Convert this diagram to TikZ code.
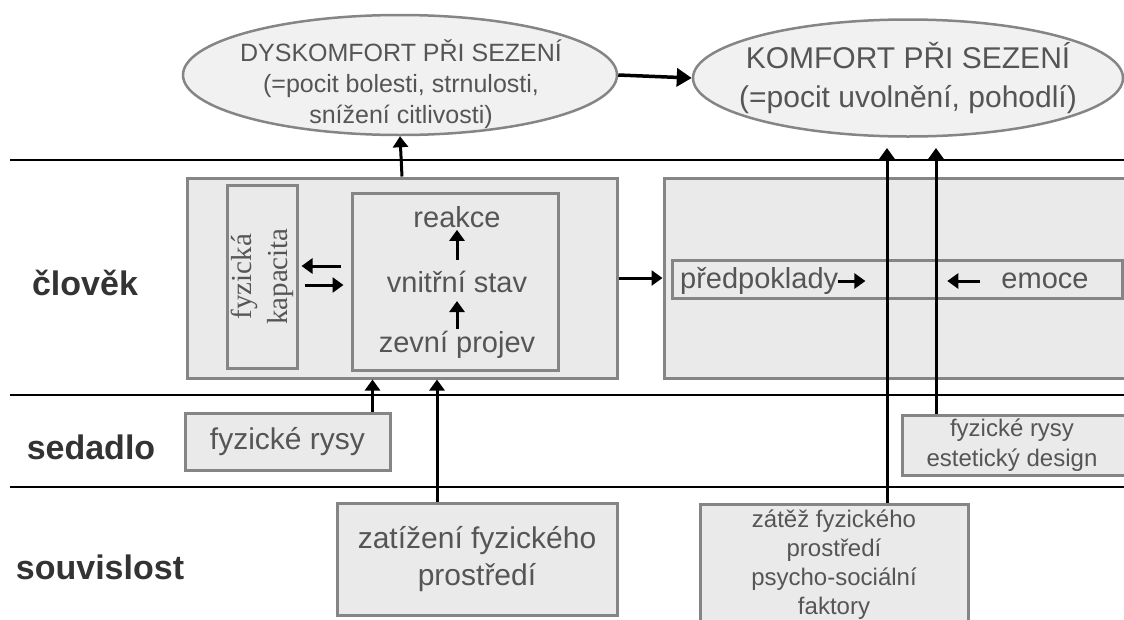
\documentclass[tikz,border=0pt]{standalone}
\usepackage{fontspec}
\setmainfont{Liberation Sans}
\newfontfamily\capfont{Liberation Serif}
\usetikzlibrary{arrows.meta,shapes.geometric,positioning}
\definecolor{rimgray}{HTML}{858585}
\definecolor{fillgray}{HTML}{EAEAEA}
\definecolor{ovalfill}{HTML}{F1F1F1}
\definecolor{txtgray}{HTML}{555555}
\definecolor{lblgray}{HTML}{333333}
\newcommand{\sz}[2]{\fontsize{#1}{#2}\selectfont}

\tikzset{
  panel/.style={draw=rimgray, line width=3pt, fill=fillgray, inner sep=0pt},
  oval/.style={ellipse, draw=rimgray, line width=2.5pt, fill=ovalfill, inner sep=0pt},
  txt/.style={text=txtgray, inner sep=2pt, align=center},
  rowlbl/.style={text=lblgray, font=\bfseries\sz{34}{40}},
  arr/.style={line width=3.5pt, -{Triangle[length=15pt,width=18pt]}},
  sarr/.style={line width=3pt, -{Triangle[length=11pt,width=15pt]}},
  sep/.style={line width=1.5pt},
}

\begin{document}
\begin{tikzpicture}[x=1pt,y=-1pt]
    \useasboundingbox (0,0) rectangle (1124,619);
    % row separators
    \draw[sep] (10,160) -- (1124,160);
    \draw[sep] (10,395) -- (1124,395);
    \draw[sep] (10,487) -- (1124,487);

    % row labels
    \node[rowlbl] (lclovek) at (85,283) {člověk};
    \node[rowlbl] (lsedadlo) at (91,447) {sedadlo};
    \node[rowlbl] (lsouvis) at (100,567) {souvislost};

    % outcome ovals
    \node[oval, minimum width=434pt, minimum height=120pt] (dys) at (400,75) {};
    \node[txt, font=\sz{25}{31}] (dystxt) at (401,84)
         {DYSKOMFORT PŘI SEZENÍ\\(=pocit bolesti, strnulosti,\\snížení citlivosti)};
    \node[oval, minimum width=430pt, minimum height=117pt] (kom) at (908,78) {};
    \node[txt, font=\sz{30}{39}] (komtxt) at (908,78)
         {KOMFORT PŘI SEZENÍ\\(=pocit uvolnění, pohodlí)};

    % person: left block
    \node[panel, minimum width=430pt, minimum height=200pt] (human) at (402,278) {};
    \node[panel, minimum width=70pt, minimum height=183pt] (kap) at (262,276.5) {};
    \node[txt, rotate=90, font=\capfont\sz{29}{36}] (kaptxt) at (kap.center)
         {fyzická\\kapacita};
    \node[panel, minimum width=206pt, minimum height=177pt] (inner) at (455,281.5) {};
    \node[txt, font=\sz{29}{34}] (reakce) at (457,217) {reakce};
    \node[txt, font=\sz{29}{34}] (vnitr) at (457,282) {vnitřní stav};
    \node[txt, font=\sz{29}{34}] (zevni) at (457,345) {zevní projev};

    % person: right block
    \node[panel, minimum width=476pt, minimum height=200pt] (psyche) at (902,278) {};
    \node[panel, minimum width=450pt, minimum height=38pt] (strip) at (897,279) {};
    \node[txt, font=\sz{29}{34}, anchor=west, inner sep=0pt] (predp) at (680,281) {předpoklady};
    \node[txt, font=\sz{29}{34}] (emoce) at (1045,281) {emoce};

    % seat
    \node[panel, minimum width=205pt, minimum height=57pt] (rysy) at (287.5,442) {};
    \node[txt, font=\sz{30}{34}] (rysytxt) at (rysy.center) {fyzické rysy};
    \node[panel, minimum width=237pt, minimum height=60pt] (design) at (1021,445) {};
    \node[txt, font=\sz{24}{30}] (designtxt) at (1012,445) {fyzické rysy\\estetický design};

    % context
    \node[panel, minimum width=280pt, minimum height=112pt] (zatiz) at (477,559) {};
    \node[txt, font=\sz{30}{37}] (zatiztxt) at (zatiz.center) {zatížení fyzického\\prostředí};
    \node[panel, minimum width=268pt, minimum height=135pt] (zatez) at (834,572) {};
    \node[txt, font=\sz{24}{29}] (zateztxt) at (834,565)
         {zátěž fyzického\\prostředí\\psycho-sociální\\faktory};

    % connectors
    \coordinate (upA) at (887,148);
    \coordinate (upB) at (936,148);
    \draw[arr] (dys.east) -- (kom.west);
    \draw[sarr] (human.north) -- (dys.south);
    \draw[sarr, shorten <=9pt] (vnitr) -- (reakce);
    \draw[sarr, shorten >=6pt] (zevni) -- (vnitr);
    \draw[sarr] ([xshift=-10pt,yshift=15.5pt]inner.west) -- ++(-39,0);
    \draw[sarr] ([xshift=6pt,yshift=-8.5pt]kap.east) -- ++(39,0);
    \draw[sarr] (human.east) -- (psyche.west);
    \draw[sarr] (predp.east) -- ++(27,0);
    \draw[sarr] ([xshift=-19pt]emoce.west) -- ++(-33,0);
    \draw[sarr] ([xshift=85pt]rysy.north) -- ([xshift=85pt]rysy.north |- human.south);
    \draw[sarr] ([xshift=-40pt]zatiz.north) -- ([xshift=-40pt]zatiz.north |- human.south);
    \draw[sarr] (zatez.north -| upA) -- (upA);
    \draw[sarr] (design.north -| upB) -- (upB);
\end{tikzpicture}
\end{document}
